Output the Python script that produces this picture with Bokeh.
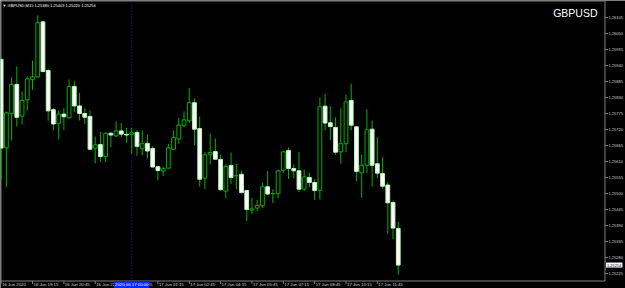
import pandas as pd
from bokeh.plotting import figure
from bokeh.models import ColumnDataSource, Label
from bokeh.core.properties import value
from bokeh.embed import file_html
from bokeh.resources import INLINE

# ---------------- data (GBPUSD, M15) ----------------
symbol = "GBPUSD"
timeframe = "M15"
times = pd.date_range("2020-06-16 17:45", periods=77, freq="15min")

opens = [
    1.25961, 1.25657, 1.25774, 1.25875, 1.25766, 1.25822, 1.25891, 1.25901, 1.26090, 1.25923,
    1.25788, 1.25741, 1.25773, 1.25760, 1.25868, 1.25801, 1.25775, 1.25765, 1.25656, 1.25668,
    1.25627, 1.25707, 1.25698, 1.25715, 1.25703, 1.25703, 1.25710, 1.25654, 1.25672, 1.25655,
    1.25592, 1.25577, 1.25587, 1.25652, 1.25687, 1.25733, 1.25750, 1.25812, 1.25723, 1.25553,
    1.25633, 1.25644, 1.25617, 1.25508, 1.25596, 1.25561, 1.25566, 1.25510, 1.25443, 1.25450,
    1.25458, 1.25523, 1.25499, 1.25499, 1.25580, 1.25648, 1.25586, 1.25578, 1.25515, 1.25555,
    1.25538, 1.25511, 1.25800, 1.25743, 1.25727, 1.25643, 1.25671, 1.25820, 1.25729, 1.25571,
    1.25597, 1.25721, 1.25602, 1.25569, 1.25529, 1.25469, 1.25380]
highs = [
    1.25965, 1.25782, 1.25900, 1.25937, 1.25851, 1.25903, 1.25957, 1.26112, 1.26092, 1.25929,
    1.25794, 1.25785, 1.25794, 1.25892, 1.25888, 1.25846, 1.25793, 1.25785, 1.25696, 1.25712,
    1.25710, 1.25712, 1.25748, 1.25742, 1.25726, 1.25725, 1.25719, 1.25717, 1.25703, 1.25662,
    1.25595, 1.25593, 1.25671, 1.25717, 1.25760, 1.25782, 1.25862, 1.25827, 1.25765, 1.25642,
    1.25706, 1.25689, 1.25634, 1.25600, 1.25641, 1.25603, 1.25579, 1.25512, 1.25485, 1.25478,
    1.25538, 1.25577, 1.25514, 1.25582, 1.25648, 1.25659, 1.25600, 1.25643, 1.25582, 1.25571,
    1.25549, 1.25830, 1.25843, 1.25800, 1.25762, 1.25793, 1.25840, 1.25877, 1.25731, 1.25634,
    1.25789, 1.25751, 1.25694, 1.25625, 1.25538, 1.25476, 1.25403]
lows = [
    1.25550, 1.25522, 1.25682, 1.25730, 1.25737, 1.25785, 1.25856, 1.25899, 1.25918, 1.25751,
    1.25717, 1.25686, 1.25717, 1.25758, 1.25780, 1.25751, 1.25739, 1.25650, 1.25604, 1.25608,
    1.25608, 1.25659, 1.25694, 1.25694, 1.25674, 1.25636, 1.25629, 1.25631, 1.25621, 1.25589,
    1.25545, 1.25560, 1.25585, 1.25650, 1.25671, 1.25728, 1.25743, 1.25665, 1.25524, 1.25515,
    1.25600, 1.25616, 1.25510, 1.25484, 1.25533, 1.25514, 1.25500, 1.25405, 1.25429, 1.25439,
    1.25450, 1.25496, 1.25467, 1.25484, 1.25571, 1.25550, 1.25553, 1.25505, 1.25509, 1.25522,
    1.25477, 1.25479, 1.25717, 1.25684, 1.25633, 1.25602, 1.25642, 1.25717, 1.25542, 1.25485,
    1.25570, 1.25524, 1.25552, 1.25517, 1.25361, 1.25342, 1.25220]
closes = [
    1.25656, 1.25777, 1.25875, 1.25762, 1.25820, 1.25894, 1.25901, 1.26087, 1.25919, 1.25784,
    1.25739, 1.25773, 1.25764, 1.25868, 1.25801, 1.25775, 1.25762, 1.25652, 1.25667, 1.25627,
    1.25707, 1.25701, 1.25715, 1.25704, 1.25701, 1.25709, 1.25662, 1.25671, 1.25646, 1.25591,
    1.25579, 1.25585, 1.25657, 1.25692, 1.25735, 1.25753, 1.25812, 1.25721, 1.25549, 1.25633,
    1.25641, 1.25618, 1.25513, 1.25593, 1.25555, 1.25561, 1.25503, 1.25445, 1.25447, 1.25459,
    1.25523, 1.25498, 1.25500, 1.25578, 1.25643, 1.25586, 1.25578, 1.25515, 1.25557, 1.25538,
    1.25510, 1.25798, 1.25742, 1.25730, 1.25642, 1.25671, 1.25815, 1.25735, 1.25576, 1.25597,
    1.25719, 1.25597, 1.25570, 1.25525, 1.25468, 1.25381, 1.25254]

price_ticks = [1.25225, 1.25280, 1.25335, 1.25390, 1.25445, 1.25500, 1.25555, 1.25610, 1.25665,
               1.25720, 1.25775, 1.25830, 1.25885, 1.25940, 1.25995, 1.26050, 1.26105]
time_tick_idx = [0, 6, 12, 18, 24, 30, 36, 42, 48, 54, 60, 66, 72]
time_tick_text = ["16 Jun 2020", "16 Jun 19:15", "16 Jun 20:45", "16 Jun 22:15", "16 Jun 23:45",
                  "17 Jun 01:15", "17 Jun 02:45", "17 Jun 04:15", "17 Jun 05:45", "17 Jun 07:15",
                  "17 Jun 08:45", "17 Jun 10:15", "17 Jun 11:45"]
vline_time = pd.Timestamp("2020-06-17 00:00")

# ---------------- layout (MT4 style: chart area + price scale + time scale) ----------------
W, H = 625, 288
CW, CH = 604, 280            # chart area inside the scales (pixels)
X0, X1 = -0.1244, 119.4926   # bar-index range across the whole canvas
Y0, Y1 = 1.251734, 1.261634  # price range across the whole canvas

def px2x(px):
    return X0 + px * (X1 - X0) / W

def py2y(py):
    return Y1 - py * (Y1 - Y0) / H

FONT = "Liberation Sans"
GREY = "#808080"
LABEL = "#d8d8d8"
GREEN = "#00b000"

idx = list(range(len(times)))
bull = [i for i in idx if closes[i] >= opens[i]]
bear = [i for i in idx if closes[i] < opens[i]]

wick_src = ColumnDataSource(dict(x=idx, high=highs, low=lows))
bull_src = ColumnDataSource(dict(x=bull, top=[closes[i] for i in bull], bottom=[opens[i] for i in bull]))
bear_src = ColumnDataSource(dict(x=bear, top=[opens[i] for i in bear], bottom=[closes[i] for i in bear]))

p = figure(width=W, height=H, x_range=(X0, X1), y_range=(Y0, Y1),
           output_backend="svg", toolbar_location=None,
           x_axis_location=None, y_axis_location=None,
           background_fill_color="black", border_fill_color="black",
           min_border=0)
p.grid.visible = False
p.outline_line_color = None

# chart frame
p.quad(left=px2x(0.5), right=px2x(CW + 0.5), top=py2y(0.5), bottom=py2y(CH + 0.5),
       fill_color=None, line_color=GREY, line_width=1)

# vertical line object at day start
sep_idx = [i for i, t in enumerate(times) if t == vline_time][0]
p.segment(x0=sep_idx, y0=py2y(1), x1=sep_idx, y1=py2y(CH), line_color="#2828c8",
          line_dash="1 2", line_width=1)

# candles
p.segment(x0="x", y0="high", x1="x", y1="low", source=wick_src, line_color=GREEN, line_width=1)
p.vbar(x="x", top="top", bottom="bottom", width=0.72, source=bull_src,
       fill_color="black", line_color=GREEN, line_width=1)
p.vbar(x="x", top="top", bottom="bottom", width=0.72, source=bear_src,
       fill_color="white", line_color="#b8f8b8", line_width=1)

# price scale (right)
p.segment(x0=px2x(CW + 0.5), y0=price_ticks, x1=px2x(CW + 3.5), y1=price_ticks, line_color=GREY)
p.text(x=px2x(CW + 4), y=price_ticks, text=[f"{v:.5f}" for v in price_ticks],
       text_align="left", text_baseline="middle", text_font=value(FONT),
       text_font_size="4px", text_color=LABEL)

# time scale (bottom)
p.segment(x0=time_tick_idx, y0=py2y(CH + 0.5), x1=time_tick_idx, y1=py2y(CH + 3.5), line_color=GREY)
p.text(x=time_tick_idx, y=py2y(CH + 4.3), x_offset=1, text=time_tick_text,
       text_align="left", text_baseline="middle", text_font=value(FONT),
       text_font_size="4.3px", text_color=LABEL)

# label of the vertical line on the time scale
p.add_layout(Label(x=sep_idx, y=py2y(CH + 4.3), text=vline_time.strftime("%Y.%m.%d %H:%M"),
                   text_align="center", text_baseline="middle", text_font=FONT,
                   text_font_size="4.3px", text_color="white",
                   background_fill_color="#0028ff", padding=1))

# current price marker on the price scale
p.add_layout(Label(x=px2x(CW + 1.5), y=closes[-1], text=f"{closes[-1]:.5f}",
                   text_align="left", text_baseline="middle", text_font=FONT,
                   text_font_size="4px", text_color="black",
                   background_fill_color="white", padding=1))

# header and symbol watermark
header = "\u25bc {},{}  {:.5f} {:.5f} {:.5f} {:.5f}".format(
    symbol, timeframe, opens[-1], highs[-1], lows[-1], closes[-1])
p.add_layout(Label(x=px2x(2), y=py2y(4.6), text=header, text_align="left", text_baseline="middle",
                   text_font=FONT, text_font_size="4px", text_color="white"))
p.add_layout(Label(x=px2x(597), y=py2y(12.3), text=symbol, text_align="right", text_baseline="middle",
                   text_font=FONT, text_font_size="10.5px", text_color="white"))

open("out.html", "w").write(file_html(p, INLINE))
